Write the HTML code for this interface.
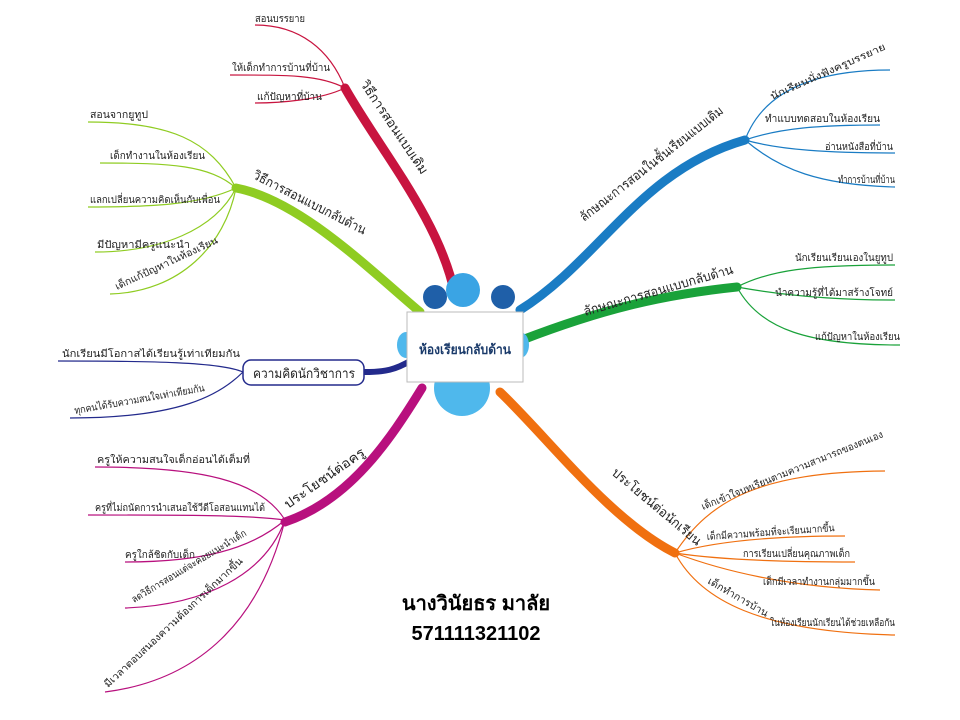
<!DOCTYPE html>
<html><head><meta charset="utf-8"><style>
html,body{margin:0;padding:0;background:#fff;width:960px;height:720px;overflow:hidden}
svg{display:block}
text{font-family:"Liberation Sans","Noto Sans CJK SC",sans-serif;fill:#222}
.l{font-size:10px}
.m{font-size:13px}
</style></head><body>
<svg width="960" height="720" viewBox="0 0 960 720">
<!-- main branches -->
<g fill="none" stroke-linecap="round">
<path d="M455 295 C440 220 380 150 345 88" stroke="#c8143f" stroke-width="9"/>
<path d="M420 312 C370 270 300 200 236 188" stroke="#8fcc22" stroke-width="9"/>
<path d="M520 310 C600 260 640 170 745 140" stroke="#1a7cc4" stroke-width="9"/>
<path d="M522 340 C600 310 660 295 737 287" stroke="#1aa23a" stroke-width="9"/>
<path d="M412 360 C395 370 385 372 365 372" stroke="#232a8c" stroke-width="6"/>
<path d="M422 388 C390 440 350 500 285 522" stroke="#b8107e" stroke-width="9"/>
<path d="M500 392 C550 440 610 520 675 553" stroke="#f07010" stroke-width="9"/>
</g>
<!-- red leaves -->
<g fill="none" stroke="#c8143f" stroke-width="1.2">
<path d="M345 88 C330 50 300 25 255 25"/>
<path d="M345 88 C320 75 290 75 230 75"/>
<path d="M345 88 C320 100 280 103 255 103"/>
</g>
<text class="l" x="255" y="22" textLength="50" lengthAdjust="spacingAndGlyphs">สอนบรรยาย</text>
<text class="l" x="232" y="71" textLength="98" lengthAdjust="spacingAndGlyphs">ให้เด็กทำการบ้านที่บ้าน</text>
<text class="l" x="257" y="100" textLength="65" lengthAdjust="spacingAndGlyphs">แก้ปัญหาที่บ้าน</text>
<text class="m" transform="translate(360,84) rotate(56)" textLength="110" lengthAdjust="spacingAndGlyphs">วิธีการสอนแบบเดิม</text>
<!-- lime leaves -->
<g fill="none" stroke="#8fcc22" stroke-width="1.2">
<path d="M236 188 C210 140 170 122 88 122"/>
<path d="M236 188 C210 165 170 163 100 163"/>
<path d="M236 188 C200 205 150 207 88 207"/>
<path d="M236 188 C215 230 160 252 95 252"/>
<path d="M236 188 C225 245 180 292 110 294"/>
</g>
<text class="l" x="90" y="118" textLength="58" lengthAdjust="spacingAndGlyphs">สอนจากยูทูป</text>
<text class="l" x="110" y="159" textLength="95" lengthAdjust="spacingAndGlyphs">เด็กทำงานในห้องเรียน</text>
<text class="l" x="90" y="203" textLength="130" lengthAdjust="spacingAndGlyphs">แลกเปลี่ยนความคิดเห็นกับเพื่อน</text>
<text class="l" x="97" y="248" textLength="93" lengthAdjust="spacingAndGlyphs">มีปัญหามีครูแนะนำ</text>
<text class="l" transform="translate(117,290) rotate(-25)" textLength="112" lengthAdjust="spacingAndGlyphs">เด็กแก้ปัญหาในห้องเรียน</text>
<text class="m" transform="translate(252,178) rotate(27)" textLength="125" lengthAdjust="spacingAndGlyphs">วิธีการสอนแบบกลับด้าน</text>
<!-- blue leaves -->
<g fill="none" stroke="#1a7cc4" stroke-width="1.2">
<path d="M745 140 C760 100 800 70 890 70"/>
<path d="M745 140 C780 128 820 125 880 125"/>
<path d="M745 140 C780 150 830 153 895 153"/>
<path d="M745 140 C780 170 820 185 895 187"/>
</g>
<text class="l" transform="translate(772,100) rotate(-24)" textLength="125" lengthAdjust="spacingAndGlyphs">นักเรียนนั่งฟังครูบรรยาย</text>
<text class="l" x="765" y="122" textLength="115" lengthAdjust="spacingAndGlyphs">ทำแบบทดสอบในห้องเรียน</text>
<text class="l" x="825" y="150" textLength="68" lengthAdjust="spacingAndGlyphs">อ่านหนังสือที่บ้าน</text>
<text class="l" x="838" y="183" textLength="57" lengthAdjust="spacingAndGlyphs">ทำการบ้านที่บ้าน</text>
<text class="m" transform="translate(584,222) rotate(-38)" textLength="178" lengthAdjust="spacingAndGlyphs">ลักษณะการสอนในชั้นเรียนแบบเดิม</text>
<!-- green leaves -->
<g fill="none" stroke="#1aa23a" stroke-width="1.2">
<path d="M737 287 C770 270 810 265 895 265"/>
<path d="M737 287 C770 293 820 300 895 300"/>
<path d="M737 287 C760 330 810 345 900 345"/>
</g>
<text class="l" x="795" y="261" textLength="98" lengthAdjust="spacingAndGlyphs">นักเรียนเรียนเองในยูทูป</text>
<text class="l" x="775" y="296" textLength="118" lengthAdjust="spacingAndGlyphs">นำความรู้ที่ได้มาสร้างโจทย์</text>
<text class="l" x="815" y="340" textLength="85" lengthAdjust="spacingAndGlyphs">แก้ปัญหาในห้องเรียน</text>
<text class="m" transform="translate(585,316) rotate(-16)" textLength="155" lengthAdjust="spacingAndGlyphs">ลักษณะการสอนแบบกลับด้าน</text>
<!-- navy -->
<rect x="243" y="360" width="121" height="25" rx="8" fill="#fff" stroke="#232a8c" stroke-width="1.5"/>
<text class="m" x="253" y="378" textLength="102" lengthAdjust="spacingAndGlyphs">ความคิดนักวิชาการ</text>
<g fill="none" stroke="#232a8c" stroke-width="1.2">
<path d="M243 372 C220 362 150 361 58 361"/>
<path d="M243 372 C220 395 180 418 70 418"/>
</g>
<text class="l" x="62" y="357" textLength="178" lengthAdjust="spacingAndGlyphs">นักเรียนมีโอกาสได้เรียนรู้เท่าเทียมกัน</text>
<text class="l" transform="translate(75,414) rotate(-10)" textLength="132" lengthAdjust="spacingAndGlyphs">ทุกคนได้รับความสนใจเท่าเทียมกัน</text>
<!-- magenta -->
<g fill="none" stroke="#b8107e" stroke-width="1.2">
<path d="M285 520 C260 480 200 467 95 467"/>
<path d="M285 520 C250 515 180 515 88 515"/>
<path d="M285 520 C250 550 200 562 125 562"/>
<path d="M285 520 C265 575 205 605 125 608"/>
<path d="M285 520 C260 620 200 680 105 692"/>
</g>
<text class="l" x="97" y="463" textLength="153" lengthAdjust="spacingAndGlyphs">ครูให้ความสนใจเด็กอ่อนได้เต็มที่</text>
<text class="l" x="95" y="511" textLength="170" lengthAdjust="spacingAndGlyphs">ครูที่ไม่ถนัดการนำเสนอใช้วีดีโอสอนแทนได้</text>
<text class="l" x="125" y="558" textLength="70" lengthAdjust="spacingAndGlyphs">ครูใกล้ชิดกับเด็ก</text>
<text class="l" transform="translate(134,603) rotate(-31)" textLength="132" lengthAdjust="spacingAndGlyphs">ลดวิธีการสอนแต่จะคอยแนะนำเด็ก</text>
<text class="l" transform="translate(108,688) rotate(-43)" textLength="185" lengthAdjust="spacingAndGlyphs">มีเวลาตอบสนองความต้องการเด็กมากขึ้น</text>
<text class="m" transform="translate(288,509) rotate(-35)" textLength="95" lengthAdjust="spacingAndGlyphs">ประโยชน์ต่อครู</text>
<!-- orange -->
<g fill="none" stroke="#f07010" stroke-width="1.2">
<path d="M675 553 C710 500 760 472 885 471"/>
<path d="M675 553 C720 540 780 536 845 536"/>
<path d="M675 553 C720 560 790 562 855 562"/>
<path d="M675 553 C720 570 790 588 880 590"/>
<path d="M675 553 C700 600 760 632 895 635"/>
</g>
<text class="l" transform="translate(703,510) rotate(-22)" textLength="195" lengthAdjust="spacingAndGlyphs">เด็กเข้าใจบทเรียนตามความสามารถของตนเอง</text>
<text class="l" transform="translate(707,540) rotate(-4)" textLength="128" lengthAdjust="spacingAndGlyphs">เด็กมีความพร้อมที่จะเรียนมากขึ้น</text>
<text class="l" x="743" y="557" textLength="107" lengthAdjust="spacingAndGlyphs">การเรียนเปลี่ยนคุณภาพเด็ก</text>
<text class="l" x="763" y="585" textLength="112" lengthAdjust="spacingAndGlyphs">เด็กมีเวลาทำงานกลุ่มมากขึ้น</text>
<text class="l" transform="translate(707,583) rotate(30)" textLength="68" lengthAdjust="spacingAndGlyphs">เด็กทำการบ้าน</text>
<text class="l" x="770" y="626" textLength="125" lengthAdjust="spacingAndGlyphs">ในห้องเรียนนักเรียนได้ช่วยเหลือกัน</text>
<text class="m" transform="translate(611,474) rotate(40)" textLength="112" lengthAdjust="spacingAndGlyphs">ประโยชน์ต่อนักเรียน</text>
<!-- center -->
<circle cx="462" cy="388" r="28" fill="#4fb8ec"/>
<circle cx="435" cy="297" r="12" fill="#1f5fa8"/>
<circle cx="503" cy="297" r="12" fill="#1f5fa8"/>
<circle cx="463" cy="290" r="17" fill="#3aa4e4"/>
<ellipse cx="406" cy="345" rx="9" ry="13" fill="#4fb8ec"/>
<ellipse cx="520" cy="345" rx="9" ry="13" fill="#4fb8ec"/>
<rect x="407" y="312" width="116" height="70" fill="#fff" stroke="#bbb" stroke-width="1"/>
<text x="465" y="354" text-anchor="middle" style="font-size:13px;font-weight:bold;fill:#1a3a6a" textLength="92" lengthAdjust="spacingAndGlyphs">ห้องเรียนกลับด้าน</text>
<text x="476" y="610" text-anchor="middle" style="font-size:20px;font-weight:bold;fill:#000">นางวินัยธร  มาลัย</text>
<text x="476" y="640" text-anchor="middle" style="font-size:20px;font-weight:bold;fill:#000">571111321102</text>
</svg>
</body></html>
